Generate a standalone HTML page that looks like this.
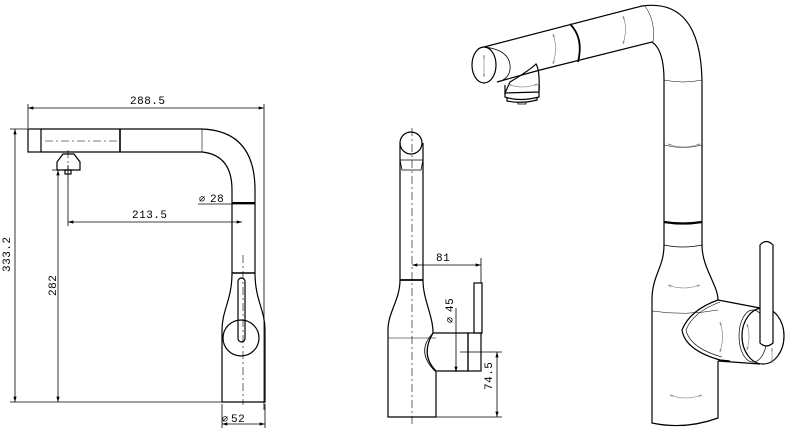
<!DOCTYPE html>
<html><head><style>html,body{margin:0;padding:0;background:#fff}svg{display:block}</style></head>
<body>
<svg width="792" height="433" viewBox="0 0 792 433" xmlns="http://www.w3.org/2000/svg" font-family="Liberation Mono, monospace" font-size="11" letter-spacing="0.5" fill="none" stroke="#000" stroke-width="1">
<defs>
<marker id="a" viewBox="0 0 10 6" refX="10" refY="3" markerWidth="8" markerHeight="4" orient="auto-start-reverse"><path d="M0,0L10,3L0,6" fill="#000" stroke="none"/></marker>
<marker id="g" viewBox="0 0 10 6" refX="10" refY="3" markerWidth="6" markerHeight="4" orient="auto-start-reverse"><path d="M0,0L10,3L0,6" fill="none" stroke="#777"/></marker>
</defs>
<!-- LEFT VIEW -->
<g stroke-width="0.8">
<line x1="28" y1="104" x2="28" y2="128"/><line x1="264" y1="104" x2="264" y2="410"/>
<line x1="28" y1="108" x2="264" y2="108" marker-start="url(#a)" marker-end="url(#a)"/>
<line x1="10" y1="129" x2="30" y2="129"/><line x1="10" y1="402" x2="222" y2="402"/>
<line x1="15" y1="129" x2="15" y2="402" marker-start="url(#a)" marker-end="url(#a)"/>
<line x1="52" y1="170" x2="72" y2="170"/>
<line x1="58" y1="170" x2="58" y2="402" marker-start="url(#a)" marker-end="url(#a)"/>
<line x1="68" y1="165" x2="68" y2="226"/>
<line x1="68" y1="222" x2="242" y2="222" marker-start="url(#a)" marker-end="url(#a)"/>
<line x1="198" y1="204" x2="255" y2="204"/>
<line x1="222" y1="404" x2="222" y2="428"/><line x1="265" y1="404" x2="265" y2="428"/>
<line x1="222" y1="424" x2="265" y2="424" marker-start="url(#a)" marker-end="url(#a)"/>
</g>
<g fill="#000" stroke="none">
<text x="130" y="104">288.5</text>
<text x="132" y="218">213.5</text>
<text x="210" y="202">28</text><text x="199" y="202" font-size="10">∅</text>
<text x="231" y="422">52</text><text x="222" y="422" font-size="10">∅</text>
<text transform="translate(10,272) rotate(-90)">333.2</text>
<text transform="translate(56,296) rotate(-90)">282</text>
</g>
<g stroke-width="1.2">
<rect x="28" y="129" width="13" height="23"/>
<path d="M41 129H202Q255 131 255 190V273M41 152H202Q232 155 232 190V273"/>
<line x1="120" y1="129" x2="120" y2="152" stroke-width="1.6"/>
<line x1="202" y1="129" x2="202" y2="152" stroke-width="0.6"/>
<line x1="232" y1="203" x2="255" y2="203" stroke-width="2"/>
<line x1="232" y1="273" x2="255" y2="273" stroke-width="1.6"/>
<path d="M232 273C232 300 222 310 222 330V402H265V330C265 310 255 300 255 273"/>
<circle cx="241" cy="338" r="18"/>
<rect x="238" y="278" width="7" height="64" rx="3.5"/>
<path d="M57 162L63 154H74L80 162V170H57Z"/><rect x="65" y="170" width="6" height="4"/>
</g>
<g stroke-width="0.6" stroke-dasharray="8 3 2 3">
<line x1="45" y1="141" x2="120" y2="141"/><line x1="68" y1="150" x2="68" y2="178"/><line x1="243" y1="255" x2="243" y2="405"/>
</g>
<!-- MIDDLE VIEW -->
<g stroke-width="1.2">
<circle cx="411" cy="143" r="11"/>
<path d="M400 143V280M423 143V280"/>
<path d="M400 160H423L421 170H402Z" stroke-width="0.8"/>
<line x1="400" y1="280" x2="423" y2="280" stroke-width="1.8"/>
<path d="M400 280C400 300 388 312 388 330V417H436V372M423 280C423 300 433 315 433 333"/>
<path d="M433 333H468V371H436Q420 355 433 333" />
<path d="M433 333Q415 352 436 372" stroke-width="0.8"/>
<rect x="468" y="333" width="13" height="38"/>
<rect x="474" y="283" width="8" height="50"/>
</g>
<g stroke-width="0.8">
<line x1="388" y1="338" x2="436" y2="338" stroke-width="0.5"/>
<line x1="481" y1="258" x2="481" y2="283"/>
<line x1="412" y1="265" x2="481" y2="265" marker-start="url(#a)" marker-end="url(#a)"/>
<line x1="456" y1="308" x2="456" y2="372" marker-end="url(#a)"/>
<line x1="460" y1="352" x2="502" y2="352"/><line x1="436" y1="417" x2="502" y2="417"/>
<line x1="497" y1="352" x2="497" y2="417" marker-start="url(#a)" marker-end="url(#a)"/>
</g>
<line x1="412" y1="128" x2="412" y2="425" stroke-width="0.6" stroke-dasharray="8 3 2 3"/>
<g fill="#000" stroke="none">
<text x="436" y="261">81</text>
<text transform="translate(453,312) rotate(-90)">45</text><text transform="translate(453,323) rotate(-90)" font-size="10">∅</text>
<text transform="translate(492,390) rotate(-90)">74.5</text>
</g>
<!-- RIGHT ISO VIEW -->
<g stroke-width="1.2">
<path d="M484 47L642 6Q700 -2 702 80V245"/>
<path d="M497 82L540 70L652 42Q664 50 664 80V245"/>
<ellipse cx="484" cy="65" rx="12" ry="18"/>
<path d="M484 47Q512 50 510 70Q508 80 497 82" stroke-width="0.8"/>
<path d="M570 24Q584 38 578 62" stroke-width="1.8"/>
<path d="M645 6Q656 22 653 42" stroke-width="0.5"/>
<path d="M510 82Q530 70 536 64Q540 70 539 92L505 93Z"/>
<path d="M505 85V97Q520 102 539 97V85"/>
<path d="M507 97V101Q522 104 537 100V97"/>
<path d="M518 102V104H526V102" stroke-width="0.8"/>
<path d="M664 80Q683 84 702 80M664 145Q683 150 702 145" stroke-width="0.5"/>
<path d="M664 222Q683 225 702 222" stroke-width="2.2"/>
<path d="M664 245Q683 249 702 245" stroke-width="0.7"/>
<path d="M664 245C664 268 652 275 652 300V423Q685 430 718 418V361M702 245C702 268 718 285 718 300"/>
<path d="M652 311Q685 316 718 310" stroke-width="0.5"/>
<path d="M718 300L760 308M718 361L760 364"/>
<path d="M718 300Q690 310 682 330Q685 350 720 360L730 361" />
<path d="M720 302Q693 312 686 330Q690 348 722 357" stroke-width="0.6"/>
<ellipse cx="763" cy="336" rx="21" ry="28"/>
<ellipse cx="753" cy="336" rx="14" ry="26" stroke-width="0.7"/>
<path d="M760 245Q766 238 773 245V343Q766 349 760 343Z" fill="#fff"/>
</g>
<g stroke="#777" stroke-width="0.6">
<line x1="484" y1="55" x2="484" y2="77" marker-start="url(#g)" marker-end="url(#g)"/>
<path d="M553 34Q558 48 553 64" marker-start="url(#g)" marker-end="url(#g)"/>
<path d="M623 16Q628 28 623 44" marker-start="url(#g)" marker-end="url(#g)"/>
<path d="M508 84Q522 90 538 84" marker-start="url(#g)" marker-end="url(#g)"/>
<path d="M668 144Q683 150 700 144" marker-start="url(#g)" marker-end="url(#g)"/>
<path d="M668 285Q683 291 700 285" marker-start="url(#g)" marker-end="url(#g)"/>
<path d="M670 395Q685 401 702 395" marker-start="url(#g)" marker-end="url(#g)"/>
<path d="M720 322Q725 336 720 352" marker-start="url(#g)" marker-end="url(#g)"/>
<path d="M747 324Q751 336 747 350" marker-start="url(#g)" marker-end="url(#g)"/>
<line x1="772" y1="348" x2="772" y2="363" marker-start="url(#g)" marker-end="url(#g)"/>
</g>
</svg>
</body></html>
